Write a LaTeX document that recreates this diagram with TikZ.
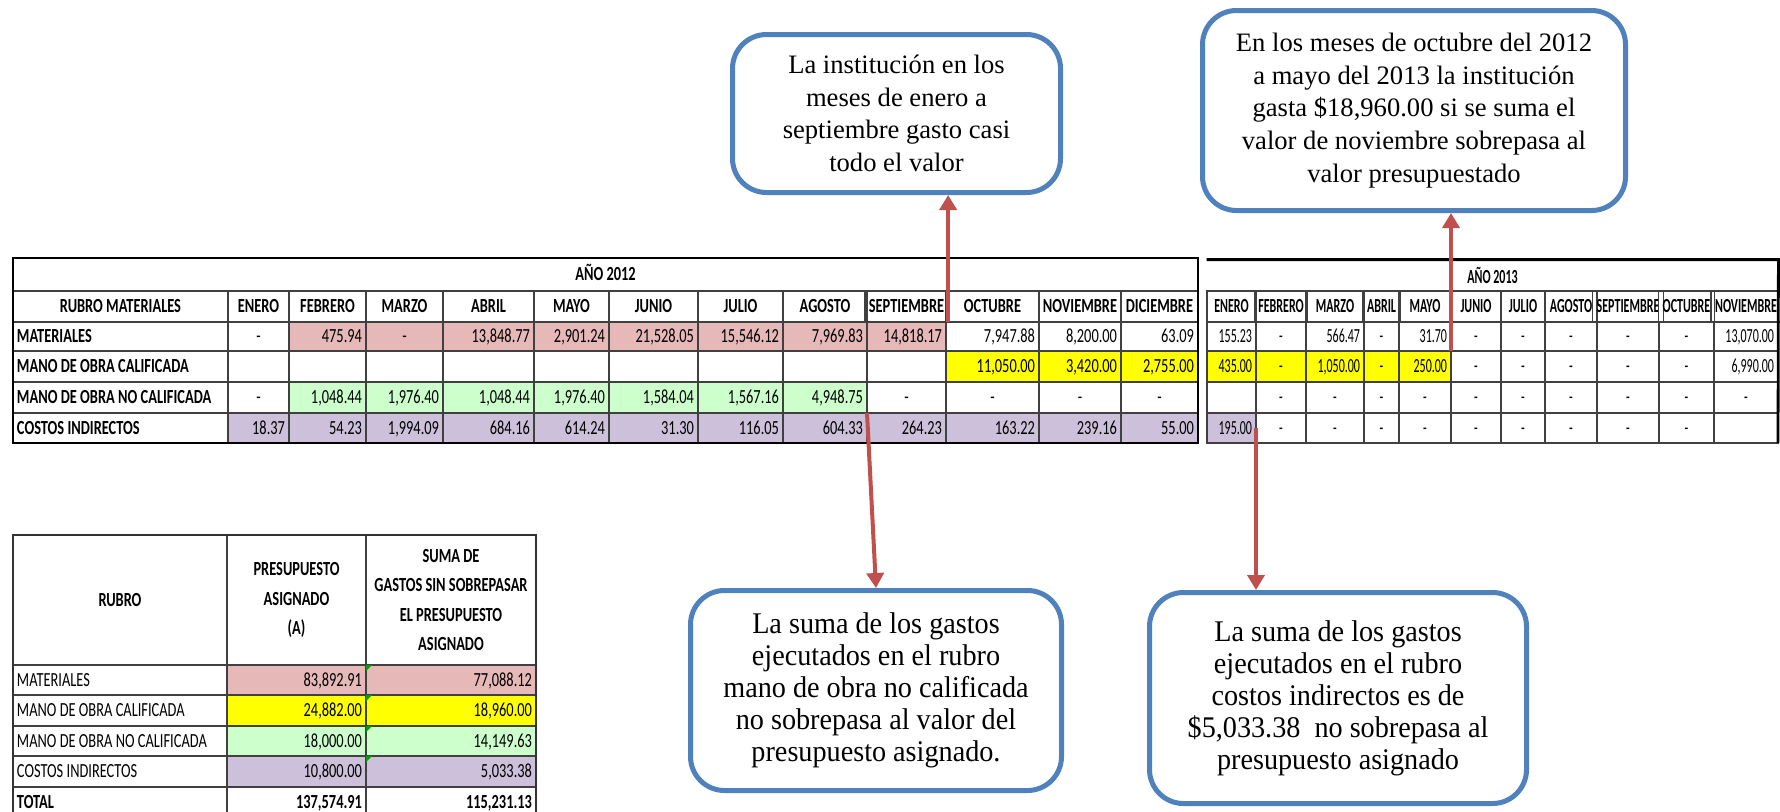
\documentclass[tikz,border=0pt]{standalone}
\usepackage{fontspec}
\setmainfont{Liberation Serif}
\newfontfamily\xlfont[FakeStretch=0.72]{Carlito}
\newfontfamily\xlnarrowfont[FakeStretch=0.6]{Carlito}
\newfontfamily\notefont[FakeStretch=0.94]{Liberation Serif}
\usetikzlibrary{arrows.meta}

\definecolor{matPink}{HTML}{E6B8B7}
\definecolor{califYellow}{HTML}{FFFF00}
\definecolor{noCalifGreen}{HTML}{CCFFCC}
\definecolor{costPurple}{HTML}{CCC0DA}
\definecolor{noteBlue}{HTML}{4F81BD}
\definecolor{arrowRed}{HTML}{C0504D}
\definecolor{markGreen}{HTML}{00A000}

\begin{document}
\begin{tikzpicture}[x=0.5pt, y=-0.5pt,
	xlcell/.style={draw=black!75, line width=0.7pt, inner xsep=2pt, inner ysep=0pt, outer sep=0pt, text height=6.6pt, text depth=0.6pt, font={\xlfont\fontsize{10}{11}\selectfont}},
	xlbold/.style={font={\xlfont\bfseries\fontsize{10}{11}\selectfont}},
	xlnarrow/.style={font={\xlnarrowfont\fontsize{10}{11}\selectfont}},
	xlnarrowbold/.style={font={\xlnarrowfont\bfseries\fontsize{10}{11}\selectfont}},
	xlhead/.style={draw=black!75, line width=0.7pt, inner xsep=2pt, inner ysep=0pt, outer sep=0pt, align=center, font={\xlfont\bfseries\fontsize{10}{14.8}\selectfont}},
	xlframe/.style={draw=black, line width=1.4pt},
	nr/.style={align=right},
	nc/.style={align=center},
	nl/.style={align=left},
	note/.style={draw=noteBlue, line width=2.5pt, rounded corners=17pt, fill=white, align=center, inner sep=0pt, font=\fontsize{13.3}{16.3}\selectfont},
	notetall/.style={font=\notefont\fontsize{15}{16}\selectfont},
	pointer/.style={draw=arrowRed, line width=2pt, -{Triangle[width=8.5pt,length=7.5pt]}}]

	\fill[white] (0,0) rectangle (1780,811);
	\useasboundingbox (0,0) rectangle (1780,811);

	% draw 2012 table
	\def\colsA{{228,289,366,443,534,609,698,783,867,946,1039,1121,1198}}
	\node[xlcell, xlbold, minimum width=592.5pt, minimum height=16.5pt](year12) at (605.5,274.5){AÑO 2012};
	\node[xlcell, xlbold, minimum width=107.5pt, minimum height=15.5pt](rubro12) at (120.5,306.5){\spaceskip 1.65pt\relax RUBRO MATERIALES};
	\foreach \m [count=\ci] in {ENERO,FEBRERO,MARZO,ABRIL,MAYO,JUNIO,JULIO,AGOSTO,SEPTIEMBRE,OCTUBRE,NOVIEMBRE,DICIEMBRE}{
		\pgfmathsetmacro\xa{\colsA[\ci-1]}
		\pgfmathsetmacro\xb{\colsA[\ci]}
		\pgfmathsetmacro\cw{(\xb-\xa)/2}
		\node[xlcell, xlbold, minimum width=\cw pt, minimum height=15.5pt](mes12-\ci) at ({(\xa+\xb)/2},306.5){\m};
	}
	\foreach \rn/\ya/\yb/\lab/\cells in {
		mat/322/351/MATERIALES/{-/white/nc, 475.94/matPink/nr, -/matPink/nc, {13,848.77}/matPink/nr, {2,901.24}/matPink/nr, {21,528.05}/matPink/nr, {15,546.12}/matPink/nr, {7,969.83}/matPink/nr, {14,818.17}/matPink/nr, {7,947.88}/white/nr, {8,200.00}/white/nr, 63.09/white/nr},
		cal/351/382/MANO DE OBRA CALIFICADA/{{}/white/nr, {}/white/nr, {}/white/nr, {}/white/nr, {}/white/nr, {}/white/nr, {}/white/nr, {}/white/nr, {}/white/nr, {11,050.00}/califYellow/nr, {3,420.00}/califYellow/nr, {2,755.00}/califYellow/nr},
		nocal/382/413/MANO DE OBRA NO CALIFICADA/{-/white/nc, {1,048.44}/noCalifGreen/nr, {1,976.40}/noCalifGreen/nr, {1,048.44}/noCalifGreen/nr, {1,976.40}/noCalifGreen/nr, {1,584.04}/noCalifGreen/nr, {1,567.16}/noCalifGreen/nr, {4,948.75}/noCalifGreen/nr, -/white/nc, -/white/nc, -/white/nc, -/white/nc},
		cst/413/443/COSTOS INDIRECTOS/{18.37/costPurple/nr, 54.23/costPurple/nr, {1,994.09}/costPurple/nr, 684.16/costPurple/nr, 614.24/costPurple/nr, 31.30/costPurple/nr, 116.05/costPurple/nr, 604.33/costPurple/nr, 264.23/costPurple/nr, 163.22/costPurple/nr, 239.16/costPurple/nr, 55.00/costPurple/nr}}{
		\pgfmathsetmacro\rh{(\yb-\ya)/2}
		\pgfmathsetmacro\yc{(\ya+\yb)/2}
		\node[xlcell, xlbold, nl, text width=103.5pt, minimum height=\rh pt](\rn12-0) at (120.5,\yc){\mbox{\spaceskip 1.65pt\relax\lab}};
		\foreach \val/\fc/\aln [count=\ci] in \cells{
			\pgfmathsetmacro\xa{\colsA[\ci-1]}
			\pgfmathsetmacro\xb{\colsA[\ci]}
			\pgfmathsetmacro\tw{(\xb-\xa)/2-4}
			\node[xlcell, \aln, fill=\fc, text width=\tw pt, minimum height=\rh pt](\rn12-\ci) at ({(\xa+\xb)/2},\yc){\val};
		}
	}
	\draw[xlframe] (year12.north west) rectangle (cst12-12.south east);

	% draw 2013 table
	\def\colsB{{1207,1256,1306,1364,1399,1451,1501,1545,1597,1659,1714,1778}}
	\node[inner sep=0pt, xlnarrowbold, minimum width=285.5pt, minimum height=15.5pt](year13) at (1492.5,275.5){AÑO 2013};
	\foreach \m [count=\ci] in {ENERO,FEBRERO,MARZO,ABRIL,MAYO,JUNIO,JULIO,AGOSTO,SEPTIEMBRE,OCTUBRE,NOVIEMBRE}{
		\pgfmathsetmacro\xa{\colsB[\ci-1]}
		\pgfmathsetmacro\xb{\colsB[\ci]}
		\pgfmathsetmacro\cw{(\xb-\xa)/2}
		\node[xlcell, xlnarrowbold, minimum width=\cw pt, minimum height=15.5pt](mes13-\ci) at ({(\xa+\xb)/2},306.5){\m};
	}
	\foreach \rn/\ya/\yb/\cells in {
		mat/322/351/{155.23/white/nr, -/white/nc, 566.47/white/nr, -/white/nc, 31.70/white/nr, -/white/nc, -/white/nc, -/white/nc, -/white/nc, -/white/nc, {13,070.00}/white/nr},
		cal/351/382/{435.00/califYellow/nr, -/califYellow/nc, {1,050.00}/califYellow/nr, -/califYellow/nc, 250.00/califYellow/nr, -/white/nc, -/white/nc, -/white/nc, -/white/nc, -/white/nc, {6,990.00}/white/nr},
		nocal/382/413/{{}/white/nr, -/white/nc, -/white/nc, -/white/nc, -/white/nc, -/white/nc, -/white/nc, -/white/nc, -/white/nc, -/white/nc, -/white/nc},
		cst/413/443/{195.00/costPurple/nr, -/white/nc, -/white/nc, -/white/nc, -/white/nc, -/white/nc, -/white/nc, -/white/nc, -/white/nc, -/white/nc, {}/white/nr}}{
		\pgfmathsetmacro\rh{(\yb-\ya)/2}
		\pgfmathsetmacro\yc{(\ya+\yb)/2}
		\foreach \val/\fc/\aln [count=\ci] in \cells{
			\pgfmathsetmacro\xa{\colsB[\ci-1]}
			\pgfmathsetmacro\xb{\colsB[\ci]}
			\pgfmathsetmacro\tw{(\xb-\xa)/2-4}
			\node[xlcell, xlnarrow, \aln, fill=\fc, text width=\tw pt, minimum height=\rh pt](\rn13-\ci) at ({(\xa+\xb)/2},\yc){\val};
		}
	}
	\draw[draw=black!75, line width=0.7pt] (year13.south west) -- (year13.south east);
	\draw[xlframe] (year13.north west) -- (year13.north east) -- (cst13-11.south east);

	% draw summary table
	\node[xlhead, minimum width=107pt, minimum height=65pt](rubroSum) at (120,600){RUBRO};
	\node[xlhead, minimum width=69.5pt, minimum height=65pt](presSum) at (296.5,600){PRESUPUESTO\\ASIGNADO\\(A)};
	\node[xlhead, minimum width=85pt, minimum height=65pt](gastoSum) at (451,600){\spaceskip 1.65pt\relax SUMA DE\\GASTOS SIN SOBREPASAR\\EL PRESUPUESTO\\ASIGNADO};
	\foreach \rn/\ya/\yb/\lab/\pa/\ga/\fc in {
		mat/665/695/MATERIALES/{83,892.91}/{77,088.12}/matPink,
		cal/695/726/MANO DE OBRA CALIFICADA/{24,882.00}/{18,960.00}/califYellow,
		nocal/726/756/MANO DE OBRA NO CALIFICADA/{18,000.00}/{14,149.63}/noCalifGreen,
		cst/756/787/COSTOS INDIRECTOS/{10,800.00}/{5,033.38}/costPurple}{
		\pgfmathsetmacro\rh{(\yb-\ya)/2}
		\pgfmathsetmacro\yc{(\ya+\yb)/2}
		\node[xlcell, nl, text width=103pt, minimum height=\rh pt](\rn Sum-0) at (120,\yc){\mbox{\spaceskip 1.65pt\relax\lab}};
		\node[xlcell, nr, fill=\fc, text width=65.5pt, minimum height=\rh pt](\rn Sum-1) at (296.5,\yc){\pa};
		\node[xlcell, nr, fill=\fc, text width=81pt, minimum height=\rh pt](\rn Sum-2) at (451,\yc){\ga};
		\fill[markGreen] (\rn Sum-2.north west) -- ++(6,0) -- ++(-6,6) -- cycle;
	}
	\node[xlcell, xlbold, nl, text width=103pt, minimum height=15.5pt](totSum-0) at (120,802.5){TOTAL};
	\node[xlcell, xlbold, nr, text width=65.5pt, minimum height=15.5pt](totSum-1) at (296.5,802.5){137,574.91};
	\node[xlcell, xlbold, nr, text width=81pt, minimum height=15.5pt](totSum-2) at (451,802.5){115,231.13};
	\draw[draw=black!80, line width=1.1pt] (rubroSum.north west) rectangle (totSum-2.south east);

	% draw notes
	\node[note, minimum width=164pt, minimum height=79pt](note1) at (896.5,113.5){La institución en los\\meses de enero a\\septiembre gasto casi\\todo el valor};
	\node[note, minimum width=211.5pt, minimum height=100pt](note2) at (1414,110.5){En los meses de octubre del 2012\\a mayo del 2013 la institución\\gasta \$18,960.00 si se suma el\\valor de noviembre sobrepasa al\\valor presupuestado};
	\node[note, notetall, minimum width=185.5pt, minimum height=100pt](note3) at (876,690.5){La suma de los gastos\\ejecutados en el rubro\\mano de obra no calificada\\no sobrepasa al valor del\\presupuesto asignado.};
	\node[note, notetall, minimum width=188.5pt, minimum height=105.5pt](note4) at (1338,698){La suma de los gastos\\ejecutados en el rubro\\costos indirectos es de\\\$5,033.38\ \ no sobrepasa al\\presupuesto asignado};

	% draw arrows
	\draw[pointer] (mes12-9.south east) -- (mes12-9.south east |- note1.south);
	\draw[pointer] (nocal12-8.south east) -- (note3.north);
	\draw[pointer] (cst13-1.east) -- (cst13-1.east |- note4.north);
	\draw[pointer] (mat13-5.south east) -- (mat13-5.south east |- note2.south);
\end{tikzpicture}
\end{document}
